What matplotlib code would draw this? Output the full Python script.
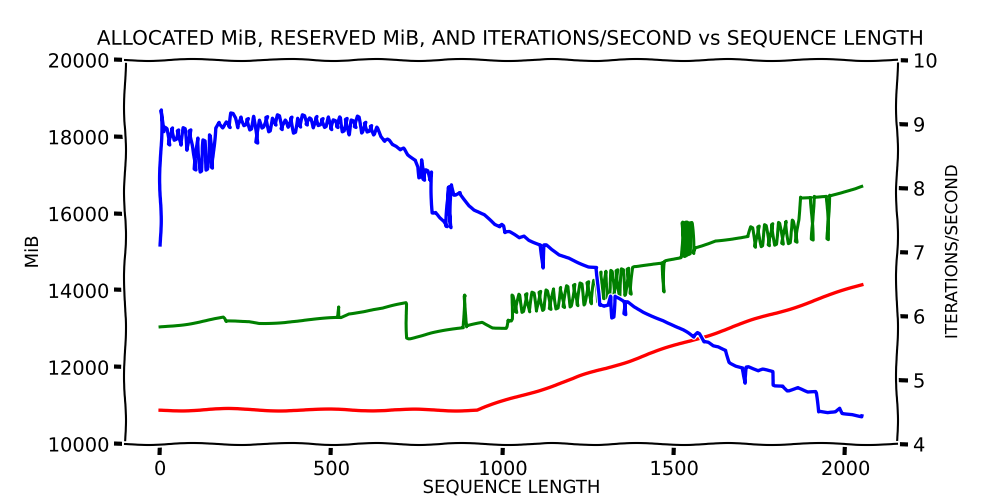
import matplotlib
matplotlib.use("Agg")
import matplotlib.pyplot as plt

# allocated MiB (red)
alloc_x = [0, 100, 200, 300, 400, 500, 600, 700, 800, 925, 950, 975, 1000, 1025, 1050, 1075, 1100,
           1125, 1150, 1175, 1200, 1225, 1250, 1275, 1300, 1325, 1350, 1375, 1400, 1425, 1450, 1475,
           1500, 1525, 1550, 1575, 1600, 1625, 1650, 1675, 1700, 1725, 1750, 1775, 1800, 1825, 1850,
           1875, 1900, 1925, 1950, 1975, 2000, 2025, 2048]
alloc_mib = [10880, 10890, 10900, 10890, 10880, 10885, 10890, 10880, 10885, 10885, 10957, 11030, 11102,
             11175, 11247, 11320, 11392, 11465, 11537, 11610, 11682, 11755, 11827, 11900, 11972, 12045,
             12117, 12190, 12262, 12335, 12407, 12480, 12552, 12625, 12697, 12770, 12842, 12915, 12987,
             13060, 13132, 13205, 13277, 13350, 13422, 13495, 13567, 13640, 13712, 13785, 13857, 13930,
             14002, 14075, 14142]

# reserved MiB (green)
reserved_x = [0, 90, 185, 190, 260, 290, 400, 520, 521, 524, 550, 650, 718, 722, 730, 800, 885, 886, 890,
              892, 940, 950, 970, 1010, 1013, 1025, 1028, 1038, 1048, 1058, 1068, 1078, 1088, 1098, 1108,
              1118, 1128, 1138, 1148, 1158, 1168, 1178, 1188, 1198, 1208, 1218, 1228, 1238, 1248, 1258,
              1268, 1278, 1285, 1293, 1301, 1309, 1317, 1325, 1333, 1341, 1349, 1357, 1365, 1373, 1381,
              1390, 1440, 1468, 1470, 1473, 1520, 1524, 1528, 1532, 1536, 1540, 1544, 1548, 1552, 1556,
              1562, 1620, 1716, 1726, 1736, 1746, 1756, 1766, 1776, 1786, 1796, 1806, 1816, 1826, 1836,
              1846, 1856, 1864, 1866, 1900, 1903, 1906, 1945, 1948, 1951, 1970, 1990, 2010, 2030, 2048]
reserved_mib = [13050, 13150, 13280, 13180, 13180, 13150, 13200, 13280, 13570, 13300, 13410, 13520, 13670,
                12760, 12760, 12890, 13020, 13880, 13880, 13050, 13150, 13100, 13020, 13030, 13230, 13230,
                13880, 13420, 13900, 13430, 13920, 13440, 13950, 13460, 13980, 13480, 14010, 13500, 14040,
                13520, 14080, 13550, 14120, 13570, 14160, 13600, 14190, 13620, 14230, 13650, 14260, 13700,
                14480, 13780, 14500, 13800, 14520, 13820, 14540, 13840, 14560, 13870, 14580, 13900, 14600,
                14610, 14700, 14740, 13960, 14750, 14860, 15780, 14880, 15780, 14900, 15780, 14930, 15760,
                15760, 14960, 15100, 15310, 15390, 15650, 15120, 15680, 15140, 15710, 15160, 15740, 15180,
                15770, 15200, 15800, 15220, 15830, 15250, 15860, 16430, 16440, 15310, 16450, 16460, 15320,
                16480, 16520, 16560, 16600, 16640, 16690]

# iterations/second (blue, right axis)
iters_x = [0, 3, 9, 17, 26, 35, 44, 52, 61, 70, 78, 87, 96, 102, 110, 119, 128, 136, 145, 151, 160, 171,
           183, 194, 203, 209, 218, 226, 235, 247, 255, 264, 273, 282, 290, 299, 311, 319, 328, 337, 345,
           354, 366, 374, 383, 392, 401, 409, 418, 427, 438, 447, 456, 464, 473, 482, 491, 499, 508, 517,
           525, 534, 543, 552, 560, 569, 578, 589, 598, 607, 615, 624, 633, 642, 653, 665, 676, 688, 700,
           711, 723, 734, 746, 755, 758, 763, 769, 778, 787, 792, 795, 804, 816, 827, 836, 842, 848, 850,
           859, 874, 888, 903, 917, 932, 946, 961, 975, 990, 999, 1004, 1019, 1033, 1048, 1062, 1077,
           1091, 1112, 1118, 1123, 1141, 1164, 1193, 1222, 1251, 1274, 1280, 1295, 1309, 1315, 1321,
           1327, 1338, 1353, 1356, 1361, 1382, 1411, 1440, 1469, 1498, 1527, 1541, 1556, 1570, 1585,
           1599, 1614, 1628, 1651, 1663, 1681, 1701, 1707, 1713, 1730, 1745, 1759, 1788, 1791, 1817,
           1832, 1861, 1890, 1913, 1919, 1948, 1971, 1983, 1991, 2020, 2048]
iters_per_sec = [7.11, 9.22, 8.88, 8.94, 8.67, 8.94, 8.75, 8.91, 8.67, 8.94, 8.59, 8.91, 8.67, 8.28, 8.78,
                 8.25, 8.75, 8.28, 8.83, 8.31, 8.94, 9.03, 8.94, 9.03, 8.94, 9.17, 9.09, 8.94, 9.11, 8.98,
                 9.09, 8.91, 9.12, 8.70, 9.06, 8.94, 9.12, 8.88, 9.09, 8.98, 9.14, 8.91, 9.06, 8.95, 9.11,
                 8.86, 9.09, 8.95, 9.14, 8.98, 9.09, 8.94, 9.12, 8.98, 9.09, 8.95, 9.11, 8.91, 9.06, 8.94,
                 9.11, 8.88, 9.09, 8.83, 9.06, 8.94, 9.12, 8.86, 9.03, 8.88, 8.98, 8.83, 8.95, 8.80, 8.72,
                 8.75, 8.67, 8.64, 8.59, 8.62, 8.52, 8.48, 8.44, 8.33, 8.16, 8.44, 8.12, 8.28, 8.12, 8.25,
                 7.61, 7.62, 7.53, 7.47, 7.39, 8.02, 7.38, 8.05, 7.89, 7.94, 7.84, 7.73, 7.66, 7.62, 7.58,
                 7.50, 7.42, 7.38, 7.42, 7.30, 7.31, 7.27, 7.22, 7.25, 7.19, 7.16, 7.12, 6.75, 7.11, 7.03,
                 6.95, 6.91, 6.84, 6.78, 6.77, 6.17, 6.14, 6.16, 6.31, 5.97, 6.31, 6.28, 6.22, 6.02, 6.22,
                 6.14, 6.06, 6.00, 5.94, 5.86, 5.78, 5.73, 5.66, 5.73, 5.59, 5.58, 5.53, 5.52, 5.47, 5.28,
                 5.23, 5.20, 4.95, 5.20, 5.16, 5.13, 5.16, 5.13, 4.92, 4.92, 4.84, 4.89, 4.81, 4.81, 4.50,
                 4.48, 4.50, 4.56, 4.48, 4.47, 4.44]

with plt.xkcd():
    plt.rcParams["font.family"] = ["DejaVu Sans"]
    fig, ax = plt.subplots(figsize=(10, 5), dpi=100)
    fig.subplots_adjust(left=0.125, right=0.897, top=0.88, bottom=0.112)

    ax.plot(alloc_x, alloc_mib, color="red", linewidth=2.4)
    ax.plot(reserved_x, reserved_mib, color="green", linewidth=2.2)
    ax.set_ylim(10000, 20000)
    ax.set_yticks([10000, 12000, 14000, 16000, 18000, 20000])
    ax.set_xticks([0, 500, 1000, 1500, 2000])
    ax.set_xlabel("SEQUENCE LENGTH", fontsize=13, labelpad=0)
    ax.set_ylabel("MiB", fontsize=13)
    ax.tick_params(labelsize=14)

    ax2 = ax.twinx()
    ax2.plot(iters_x, iters_per_sec, color="blue", linewidth=2.4)
    ax2.set_ylim(4, 10)
    ax2.set_yticks([4, 5, 6, 7, 8, 9, 10])
    ax2.set_ylabel("ITERATIONS/SECOND", fontsize=12)
    ax2.tick_params(labelsize=14)

    ax.set_title("ALLOCATED MiB, RESERVED MiB, AND ITERATIONS/SECOND vs SEQUENCE LENGTH",
                 fontsize=14.4, pad=11)

    fig.savefig("out.png", dpi=100)
